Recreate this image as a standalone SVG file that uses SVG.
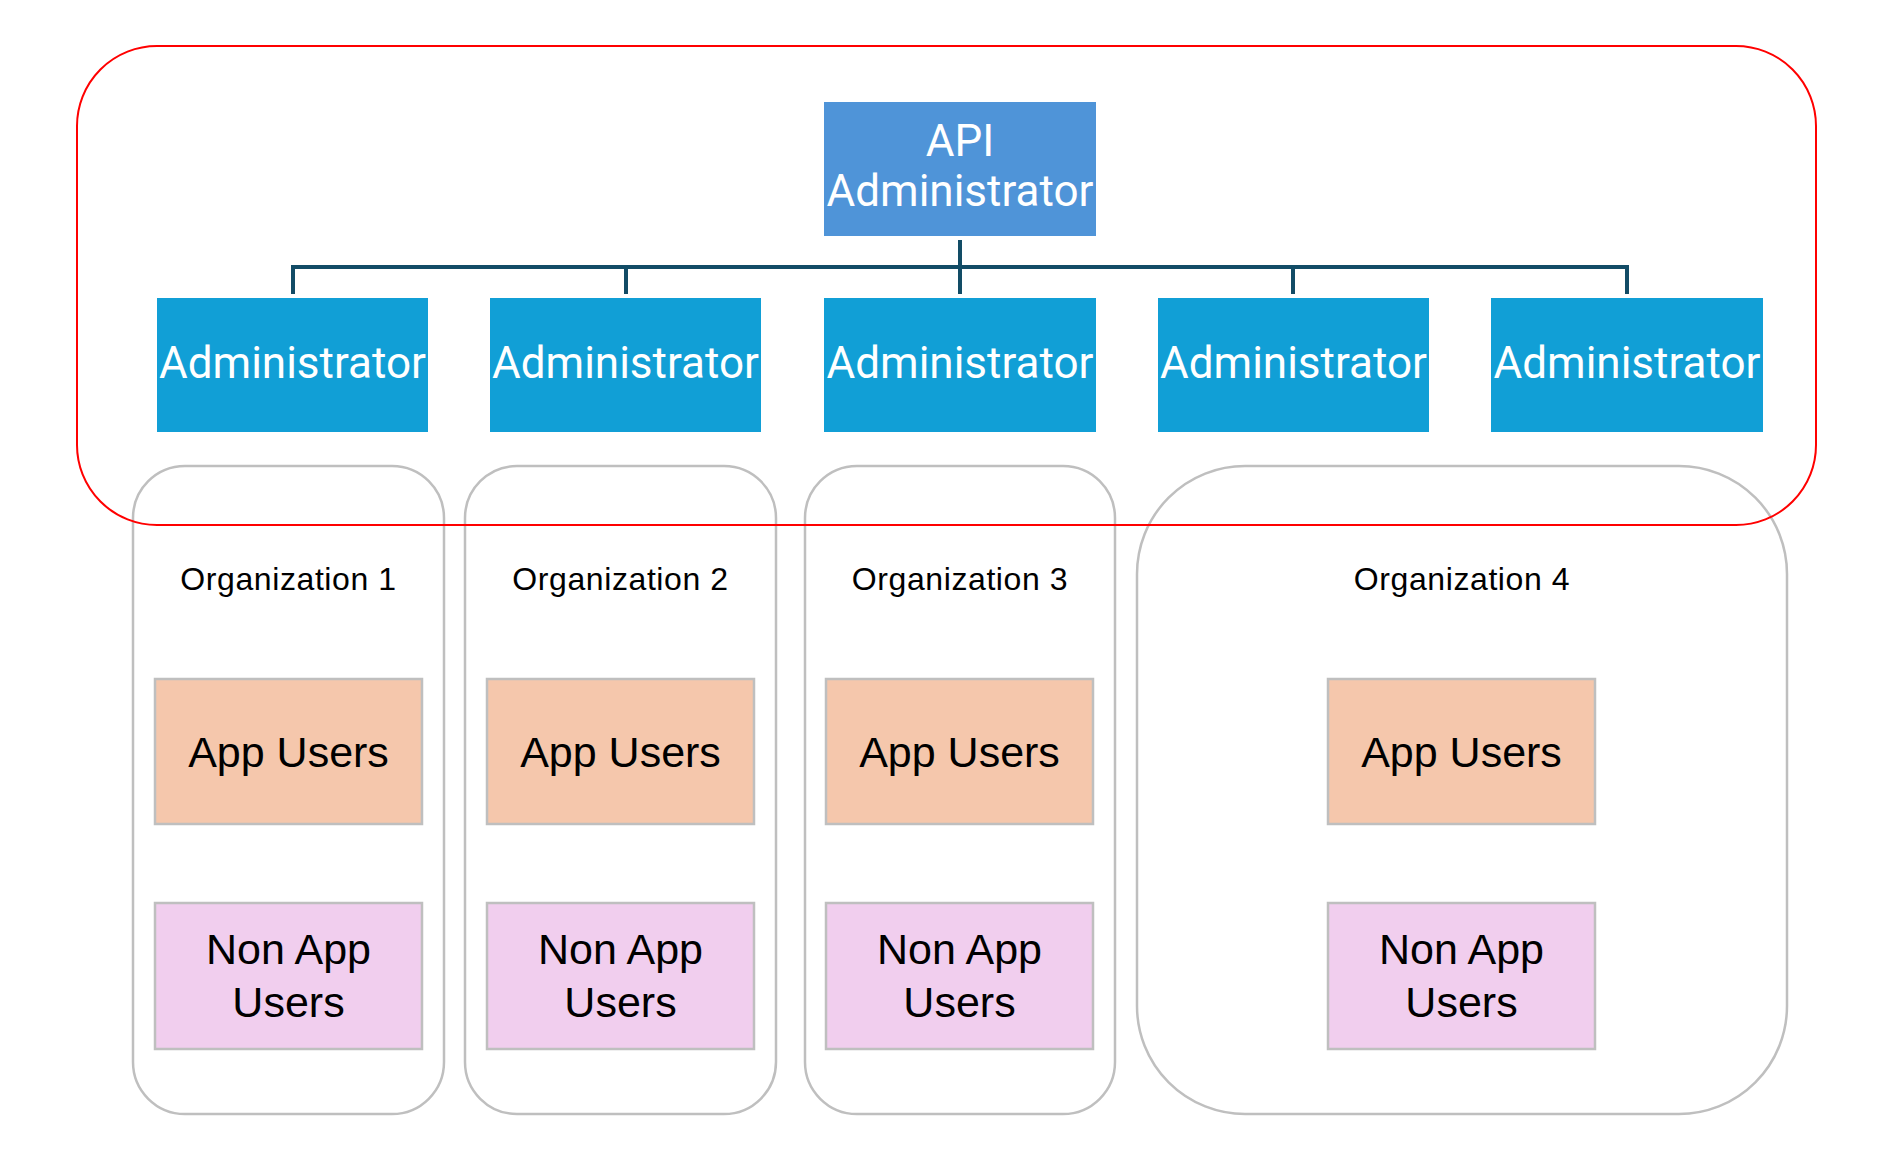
<svg xmlns="http://www.w3.org/2000/svg" width="1880" height="1169" viewBox="0 0 1880 1169">
<style>
.bg{fill:#ffffff}
.org{fill:none;stroke:#bfbfbf;stroke-width:2.5}
.orgt{font-family:"Liberation Sans",Arial,sans-serif;font-size:32px;letter-spacing:0.6px;fill:#000;text-anchor:middle}
.api{fill:#4f94d8}
.adm{fill:#119fd6}
.admt{font-family:Roboto,"Liberation Sans",sans-serif;font-size:44px;fill:#fff;text-anchor:middle}
.app{fill:#f5c7ac;stroke:#bfbfbf;stroke-width:2.5}
.non{fill:#f1ceee;stroke:#bfbfbf;stroke-width:2.5}
.ut{font-family:"Liberation Sans",Arial,sans-serif;font-size:43px;fill:#000;text-anchor:middle}
.conn{fill:none;stroke:#124c66;stroke-width:4}
.red{fill:none;stroke:#ff0000;stroke-width:2}
</style>
<rect class="bg" x="0" y="0" width="1880" height="1169"/>

<g id="org1">
<rect class="org" x="133" y="466" width="311" height="648" rx="52"/>
<text class="orgt" x="288.5" y="590">Organization 1</text>
</g>
<g id="org2">
<rect class="org" x="465" y="466" width="311" height="648" rx="52"/>
<text class="orgt" x="620.5" y="590">Organization 2</text>
</g>
<g id="org3">
<rect class="org" x="805" y="466" width="310" height="648" rx="52"/>
<text class="orgt" x="960" y="590">Organization 3</text>
</g>
<g id="org4">
<rect class="org" x="1137" y="466" width="650" height="648" rx="108"/>
<text class="orgt" x="1462" y="590">Organization 4</text>
</g>

<g id="app1"><rect class="app" x="155" y="679" width="267" height="145"/><text class="ut" x="288.5" y="767">App Users</text></g>
<g id="app2"><rect class="app" x="487" y="679" width="267" height="145"/><text class="ut" x="620.5" y="767">App Users</text></g>
<g id="app3"><rect class="app" x="826" y="679" width="267" height="145"/><text class="ut" x="959.5" y="767">App Users</text></g>
<g id="app4"><rect class="app" x="1328" y="679" width="267" height="145"/><text class="ut" x="1461.5" y="767">App Users</text></g>

<g id="non1"><rect class="non" x="155" y="903" width="267" height="146"/><text class="ut" x="288.5" y="964">Non App</text><text class="ut" x="288.5" y="1017">Users</text></g>
<g id="non2"><rect class="non" x="487" y="903" width="267" height="146"/><text class="ut" x="620.5" y="964">Non App</text><text class="ut" x="620.5" y="1017">Users</text></g>
<g id="non3"><rect class="non" x="826" y="903" width="267" height="146"/><text class="ut" x="959.5" y="964">Non App</text><text class="ut" x="959.5" y="1017">Users</text></g>
<g id="non4"><rect class="non" x="1328" y="903" width="267" height="146"/><text class="ut" x="1461.5" y="964">Non App</text><text class="ut" x="1461.5" y="1017">Users</text></g>

<g id="api-admin">
<rect class="api" x="824" y="102" width="272" height="134"/>
<text class="admt" x="960" y="156">API</text>
<text class="admt" x="960" y="206">Administrator</text>
</g>
<g id="admin1"><rect class="adm" x="157" y="298" width="271" height="134"/><text class="admt" x="292.5" y="378">Administrator</text></g>
<g id="admin2"><rect class="adm" x="490" y="298" width="271" height="134"/><text class="admt" x="625.5" y="378">Administrator</text></g>
<g id="admin3"><rect class="adm" x="824" y="298" width="272" height="134"/><text class="admt" x="960" y="378">Administrator</text></g>
<g id="admin4"><rect class="adm" x="1158" y="298" width="271" height="134"/><text class="admt" x="1293.5" y="378">Administrator</text></g>
<g id="admin5"><rect class="adm" x="1491" y="298" width="272" height="134"/><text class="admt" x="1627" y="378">Administrator</text></g>

<g id="connectors">
<path class="conn" d="M293 294 V267 H1627 V294"/>
<path class="conn" d="M960 240 V294"/>
<path class="conn" d="M626 267 V294"/>
<path class="conn" d="M1293 267 V294"/>
</g>

<g id="scope">
<rect class="red" x="77" y="46" width="1739" height="479" rx="80"/>
</g>
</svg>
